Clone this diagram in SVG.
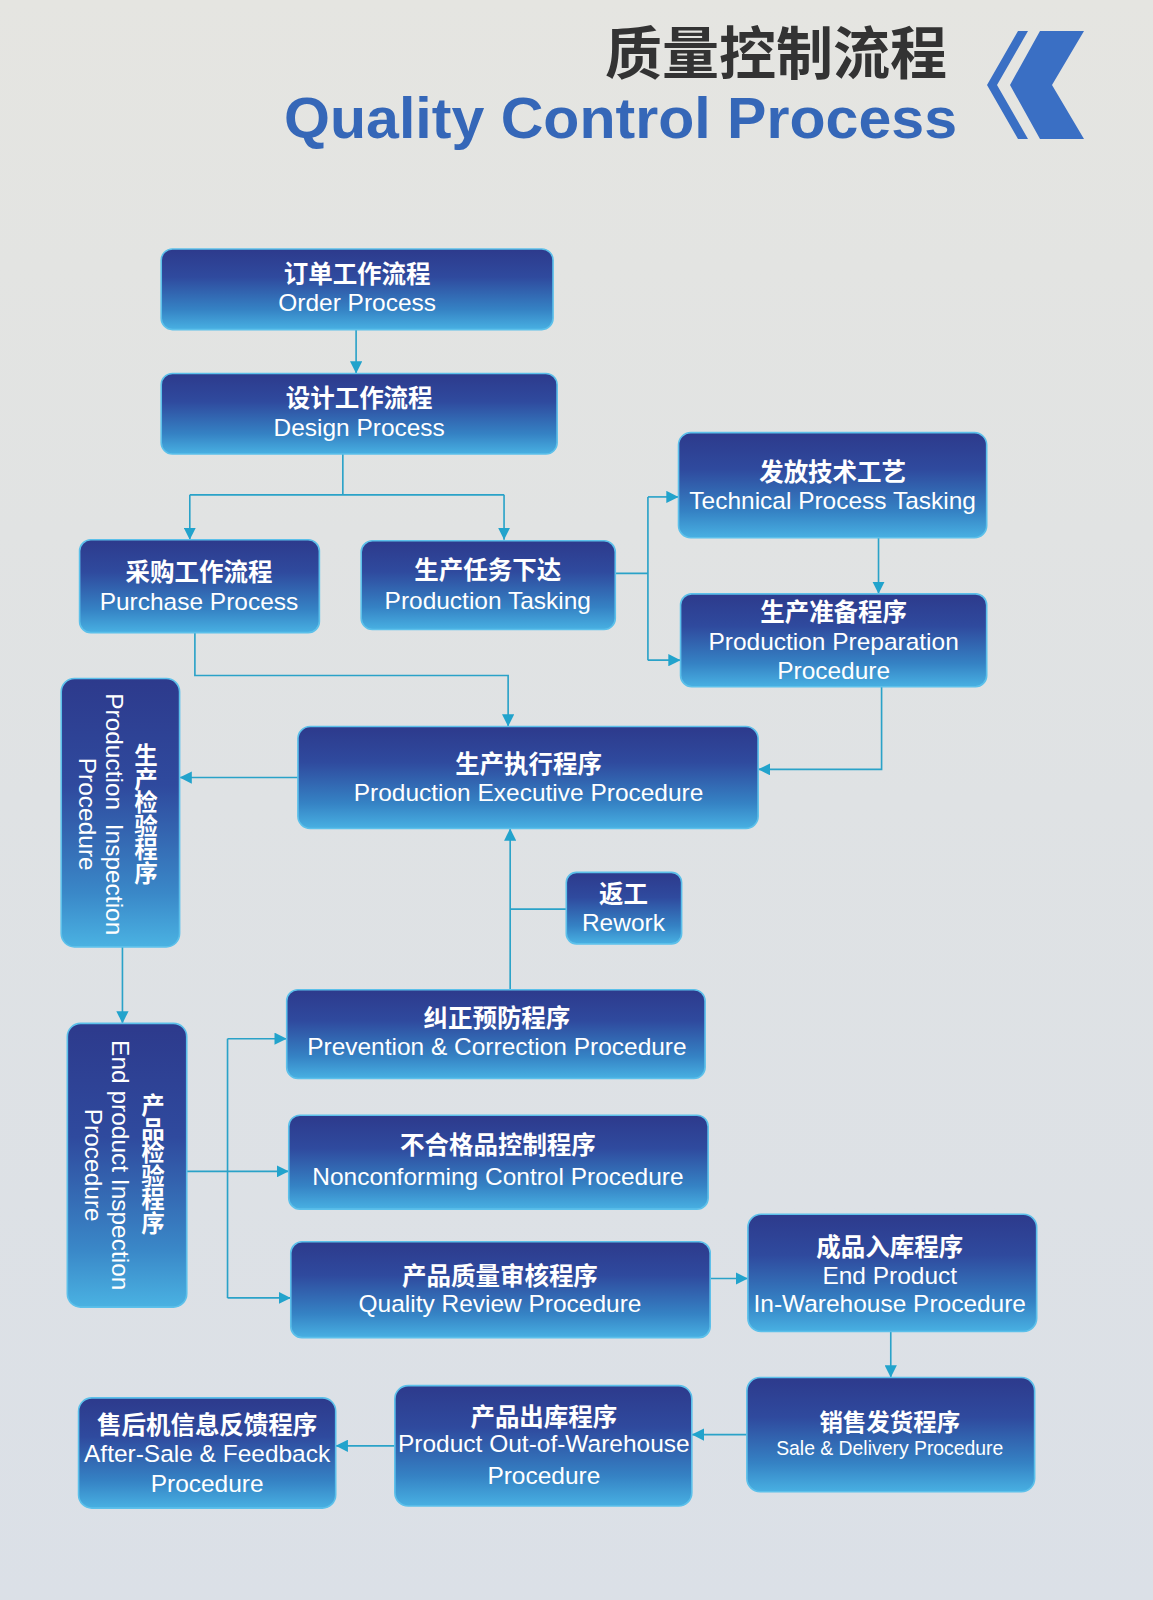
<svg xmlns="http://www.w3.org/2000/svg" width="1153" height="1600" viewBox="0 0 1153 1600">
<defs>
<linearGradient id="bg" x1="0" y1="0" x2="0" y2="1">
<stop offset="0" stop-color="#e5e5e1"/>
<stop offset="0.5" stop-color="#dfe2e4"/>
<stop offset="1" stop-color="#dbe0e7"/>
</linearGradient>
<linearGradient id="nodeFill" x1="0" y1="0" x2="0" y2="1">
<stop offset="0" stop-color="#2d3a8c"/>
<stop offset="0.35" stop-color="#2f4a9e"/>
<stop offset="0.75" stop-color="#3582c4"/>
<stop offset="1" stop-color="#48b0e2"/>
</linearGradient>
<linearGradient id="vFill" x1="0" y1="0" x2="0" y2="1">
<stop offset="0" stop-color="#2d3a8c"/>
<stop offset="0.4" stop-color="#2f4a9e"/>
<stop offset="0.8" stop-color="#3a88c8"/>
<stop offset="1" stop-color="#4ab2e2"/>
</linearGradient>
<marker id="arr" markerUnits="userSpaceOnUse" markerWidth="14" markerHeight="12" refX="12" refY="6" orient="auto">
<path d="M0,0 L12,6 L0,12 Z" fill="#22a3cc"/>
</marker>
<style>
.node{fill:url(#nodeFill);stroke:#5cc0ea;stroke-width:1.6}
.vnode{fill:url(#vFill);stroke:#5cc0ea;stroke-width:1.6}
.cn{font-family:"Noto Sans CJK SC","Noto Sans",sans-serif;font-weight:bold;font-size:24px;fill:#ffffff;text-anchor:middle}
.vcn{font-family:"Noto Sans CJK SC","Noto Sans",sans-serif;font-weight:bold;font-size:23px;fill:#ffffff;text-anchor:middle;writing-mode:vertical-rl;text-orientation:upright}
.en{font-family:"Liberation Sans",Arial,sans-serif;font-size:24px;fill:#ffffff;text-anchor:middle}
.conn{fill:none;stroke:#2aa2c8;stroke-width:1.6}
</style>
</defs>
<rect x="0" y="0" width="1153" height="1600" fill="url(#bg)"/>
<g id="title">
<text x="947" y="74" style="font-family:'Noto Sans CJK SC',sans-serif;font-weight:bold;font-size:57px;fill:#333333;text-anchor:end">质量控制流程</text>
<text x="284" y="138" textLength="673" lengthAdjust="spacingAndGlyphs" style="font-family:'Liberation Sans',Arial,sans-serif;font-weight:bold;font-size:58px;fill:#3567b8">Quality Control Process</text>
<polygon points="1040,31 1084,31 1052,85 1084,139 1040,139 1010,85" fill="#3a6fc4"/>
<polygon points="1018,31 1028,31 997,85 1028,139 1018,139 987,85" fill="#3a6fc4"/>
</g>
<g transform="scale(1.02035)">
<g id="connectors">
<path class="conn" d="M349,323 V366" marker-end="url(#arr)"/>
<path class="conn" d="M336,445 V485 M186,485 H494"/>
<path class="conn" d="M186,485 V529" marker-end="url(#arr)"/>
<path class="conn" d="M494,485 V529" marker-end="url(#arr)"/>
<path class="conn" d="M191,620 V662 H498 V712" marker-end="url(#arr)"/>
<path class="conn" d="M603,562 H635 M635,487 V647"/>
<path class="conn" d="M635,487 H665" marker-end="url(#arr)"/>
<path class="conn" d="M635,647 H667" marker-end="url(#arr)"/>
<path class="conn" d="M861,527 V582" marker-end="url(#arr)"/>
<path class="conn" d="M864,673 V754 H743" marker-end="url(#arr)"/>
<path class="conn" d="M292,762 H176" marker-end="url(#arr)"/>
<path class="conn" d="M120,928 V1003" marker-end="url(#arr)"/>
<path class="conn" d="M500,970 V812" marker-end="url(#arr)"/>
<path class="conn" d="M555,891 H500"/>
<path class="conn" d="M183,1148 H283" marker-end="url(#arr)"/>
<path class="conn" d="M223,1018 V1272"/>
<path class="conn" d="M223,1018 H281" marker-end="url(#arr)"/>
<path class="conn" d="M223,1272 H285" marker-end="url(#arr)"/>
<path class="conn" d="M696,1253 H733" marker-end="url(#arr)"/>
<path class="conn" d="M873,1305 V1350" marker-end="url(#arr)"/>
<path class="conn" d="M732,1406 H678" marker-end="url(#arr)"/>
<path class="conn" d="M387,1417 H329" marker-end="url(#arr)"/>
</g>
<g id="order">
<rect class="node" x="158" y="244" width="384" height="79" rx="11"/>
<text class="cn" x="350" y="277">订单工作流程</text>
<text class="en" x="350" y="305">Order Process</text>
</g>
<g id="design">
<rect class="node" x="158" y="366" width="388" height="79" rx="11"/>
<text class="cn" x="352" y="399">设计工作流程</text>
<text class="en" x="352" y="427">Design Process</text>
</g>
<g id="purchase">
<rect class="node" x="78" y="529" width="235" height="91" rx="11"/>
<text class="cn" x="195" y="569">采购工作流程</text>
<text class="en" x="195" y="598">Purchase Process</text>
</g>
<g id="tasking">
<rect class="node" x="354" y="530" width="249" height="87" rx="11"/>
<text class="cn" x="478" y="567">生产任务下达</text>
<text class="en" x="478" y="597">Production Tasking</text>
</g>
<g id="technical">
<rect class="node" x="665" y="424" width="302" height="103" rx="12"/>
<text class="cn" x="816" y="471">发放技术工艺</text>
<text class="en" x="816" y="499">Technical Process Tasking</text>
</g>
<g id="preparation">
<rect class="node" x="667" y="582" width="300" height="91" rx="11"/>
<text class="cn" x="817" y="609">生产准备程序</text>
<text class="en" x="817" y="637">Production Preparation</text>
<text class="en" x="817" y="665">Procedure</text>
</g>
<g id="executive">
<rect class="node" x="292" y="712" width="451" height="100" rx="12"/>
<text class="cn" x="518" y="758">生产执行程序</text>
<text class="en" x="518" y="785">Production Executive Procedure</text>
</g>
<g id="prod-inspection">
<rect class="vnode" x="60" y="665" width="116" height="263" rx="13"/>
<text class="vcn" x="143" y="798">生产检验程序</text>
<text class="en" transform="translate(104,798) rotate(90)" xml:space="preserve">Production  Inspection</text>
<text class="en" transform="translate(77,798) rotate(90)">Procedure</text>
</g>
<g id="rework">
<rect class="node" x="555" y="855" width="113" height="70" rx="10"/>
<text class="cn" x="611" y="885">返工</text>
<text class="en" x="611" y="912">Rework</text>
</g>
<g id="prevention">
<rect class="node" x="281" y="970" width="410" height="87" rx="11"/>
<text class="cn" x="487" y="1007">纠正预防程序</text>
<text class="en" x="487" y="1034">Prevention &amp; Correction Procedure</text>
</g>
<g id="end-inspection">
<rect class="vnode" x="66" y="1003" width="117" height="278" rx="13"/>
<text class="vcn" x="150" y="1141">产品检验程序</text>
<text class="en" transform="translate(110,1142) rotate(90)">End product Inspection</text>
<text class="en" transform="translate(83,1142) rotate(90)">Procedure</text>
</g>
<g id="nonconforming">
<rect class="node" x="283" y="1093" width="411" height="92" rx="11"/>
<text class="cn" x="488" y="1131">不合格品控制程序</text>
<text class="en" x="488" y="1161">Nonconforming Control Procedure</text>
</g>
<g id="quality-review">
<rect class="node" x="285" y="1217" width="411" height="94" rx="11"/>
<text class="cn" x="490" y="1259">产品质量审核程序</text>
<text class="en" x="490" y="1286">Quality Review Procedure</text>
</g>
<g id="in-warehouse">
<rect class="node" x="733" y="1190" width="283" height="115" rx="13"/>
<text class="cn" x="872" y="1231">成品入库程序</text>
<text class="en" x="872" y="1258">End Product</text>
<text class="en" x="872" y="1286">In-Warehouse Procedure</text>
</g>
<g id="sale-delivery">
<rect class="node" x="732" y="1350" width="282" height="112" rx="13"/>
<text class="cn" x="872" y="1402" style="font-size:23px">销售发货程序</text>
<text class="en" x="872" y="1426" style="font-size:19px">Sale &amp; Delivery Procedure</text>
</g>
<g id="out-warehouse">
<rect class="node" x="387" y="1358" width="291" height="118" rx="13"/>
<text class="cn" x="533" y="1398">产品出库程序</text>
<text class="en" x="533" y="1423" textLength="286" lengthAdjust="spacingAndGlyphs">Product Out-of-Warehouse</text>
<text class="en" x="533" y="1454">Procedure</text>
</g>
<g id="after-sale">
<rect class="node" x="77" y="1370" width="252" height="108" rx="13"/>
<text class="cn" x="203" y="1405">售后机信息反馈程序</text>
<text class="en" x="203" y="1433">After-Sale &amp; Feedback</text>
<text class="en" x="203" y="1462">Procedure</text>
</g>
</g>
</svg>
